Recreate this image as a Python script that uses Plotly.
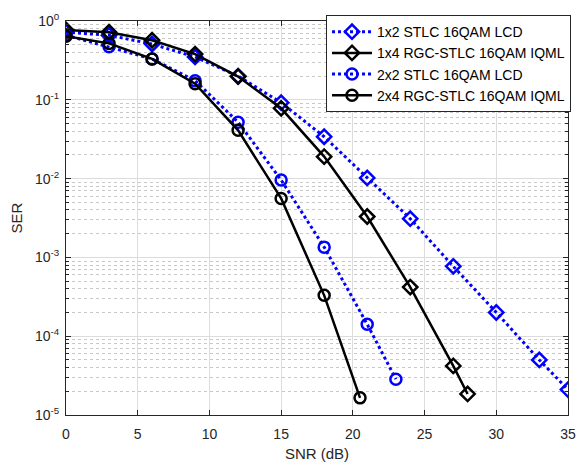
import plotly.graph_objects as go

# SNR grids (dB)
snr_a = [0, 3, 6, 9, 12, 15, 18, 21, 24, 27, 30, 33, 35]
snr_b = [0, 3, 6, 9, 12, 15, 18, 21, 24, 27, 28]
snr_c = [0, 3, 6, 9, 12, 15, 18, 21, 23]
snr_d = [0, 3, 6, 9, 12, 15, 18, 20.5]

# Symbol error rates
ser_1x2_lcd = [0.72, 0.66, 0.51, 0.35, 0.20, 0.092, 0.034, 0.0102, 0.0031, 0.00077, 0.000200, 0.000050, 0.000021]
ser_1x4_iqml = [0.77, 0.72, 0.57, 0.38, 0.197, 0.078, 0.019, 0.0033, 0.00042, 0.000042, 0.0000185]
ser_2x2_lcd = [0.66, 0.47, 0.33, 0.175, 0.052, 0.0096, 0.00135, 0.000142, 0.0000285]
ser_2x4_iqml = [0.64, 0.52, 0.33, 0.16, 0.041, 0.0056, 0.00033, 0.0000165]

names = ["1x2 STLC 16QAM LCD", "1x4 RGC-STLC 16QAM IQML",
         "2x2 STLC 16QAM LCD", "2x4 RGC-STLC 16QAM IQML"]

BLUE = "rgb(0,0,255)"
BLACK = "rgb(0,0,0)"
FONT = "Liberation Sans, Arial, sans-serif"

fig = go.Figure()
series = [
    (snr_a, ser_1x2_lcd, names[0], BLUE, "dot", "diamond-open", 3),
    (snr_b, ser_1x4_iqml, names[1], BLACK, "solid", "diamond-open", 2.5),
    (snr_c, ser_2x2_lcd, names[2], BLUE, "dot", "circle-open", 3),
    (snr_d, ser_2x4_iqml, names[3], BLACK, "solid", "circle-open", 2.5),
]
for x, y, name, col, dash, sym, lw in series:
    fig.add_trace(go.Scatter(
        x=x, y=y, name=name, mode="lines+markers",
        line=dict(color=col, width=lw, dash=dash),
        marker=dict(symbol=sym, size=11, color=col, line=dict(color=col, width=2.5)),
    ))

ytv = [1e-5, 1e-4, 1e-3, 1e-2, 1e-1, 1]
ytt = ["10<sup>-5</sup>", "10<sup>-4</sup>", "10<sup>-3</sup>", "10<sup>-2</sup>",
       "10<sup>-1</sup>", "10<sup>0</sup>"]

axis_common = dict(
    showline=True, linecolor="#262626", linewidth=1, mirror="allticks",
    ticks="inside", ticklen=5, tickcolor="#262626",
    showgrid=True, gridcolor="#dcdcdc", gridwidth=1,
    tickfont=dict(family=FONT, size=14, color="#262626"),
    title_font=dict(family=FONT, size=15, color="#262626"),
    zeroline=False,
)

fig.update_xaxes(
    range=[0, 35], tickvals=[0, 5, 10, 15, 20, 25, 30, 35],
    title_text="SNR (dB)", title_standoff=7, ticklabelstandoff=6, **axis_common,
)
fig.update_yaxes(
    type="log", range=[-5, 0], tickvals=ytv, ticktext=ytt,
    title_text="SER", title_standoff=8, ticklabelstandoff=3,
    minor=dict(ticks="inside", ticklen=3, tickcolor="#262626",
               showgrid=True, gridcolor="#c8c8c8", griddash="dot",
               tickvals=[m * 10 ** e for e in range(-5, 0) for m in range(2, 10)]),
    **axis_common,
)

fig.update_layout(
    width=587, height=470,
    margin=dict(l=66, r=11, t=14, b=52),
    paper_bgcolor="white", plot_bgcolor="white",
    font=dict(family=FONT, color="#000000"),
    showlegend=True,
    legend=dict(
        x=1.006, y=1.015, xanchor="right", yanchor="top",
        bgcolor="white", bordercolor="#262626", borderwidth=1,
        font=dict(size=14, color="#000000"),
        tracegroupgap=0, itemwidth=40,
    ),
)

fig.write_html("out.html")
